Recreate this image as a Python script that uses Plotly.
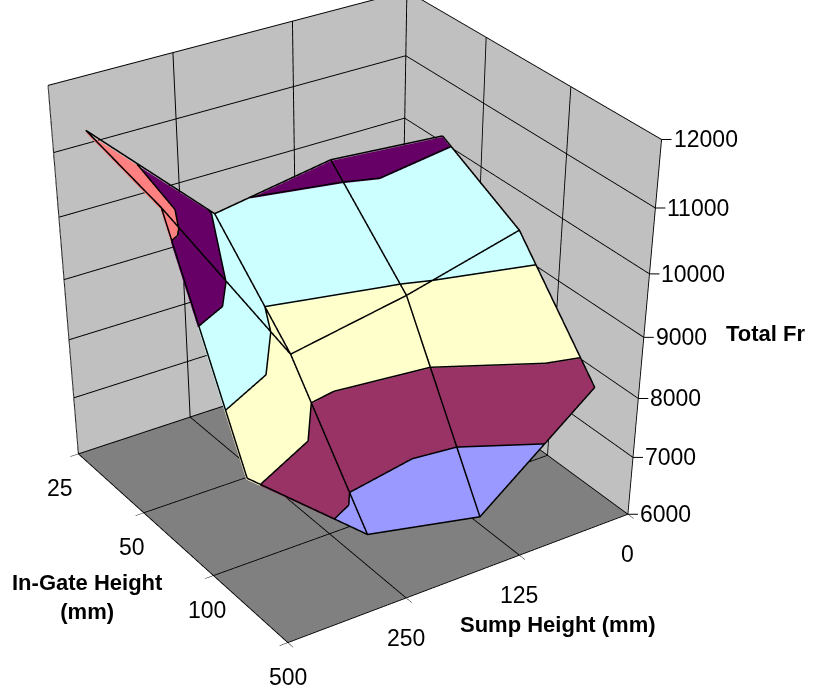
import numpy as np
import plotly.graph_objects as go

gate_labels = ["25", "50", "100", "500"]
sump_labels = ["0", "125", "250", ""]
z_ticks = [6000, 7000, 8000, 9000, 10000, 11000, 12000]
row_a = [10080, 10220, 9906, 11700]
row_b = [9373, 8890, 8540, 11380]
row_c = [7680, 6116, 6530, 8180]
band_colors = ["#9999FF", "#993366", "#FFFFCC", "#CCFFFF", "#660066", "#FF8080"]

FONT = "Liberation Sans, Arial, sans-serif"
W, H = 815, 2100          # page is taller than the window: weaker perspective at the same size
SCENE_W = 688

sump_pos = list(range(len(sump_labels)))
gate_pos = list(range(len(gate_labels)))
row_pos = [p + 0.5 for p in gate_pos[:-1]]
xmax, ymax = sump_pos[-1], gate_pos[-1]
zmin, zmax = z_ticks[0], z_ticks[-1]
rows = [row_a, row_b, row_c]
asp_z = 0.96
FLIPPED_CELLS = {(2, 0)}   # cell split along its other diagonal

# camera: direction plus a pure sideways/upwards shift of the picture
depth = 6.06
pitch = np.radians(44.0)
hor = np.array([0.55, 0.835])
hor = hor / np.linalg.norm(hor)
view = np.array([hor[0] * np.cos(pitch), hor[1] * np.cos(pitch), np.sin(pitch)])
right = np.array([-hor[1], hor[0], 0.0])
up = np.array([-hor[0] * np.sin(pitch), -hor[1] * np.sin(pitch), np.cos(pitch)])
f = H / (2 * np.tan(np.pi / 8))
ppu = f / depth
box_px = np.array([349.0, 308.0])
dx = box_px[0] - SCENE_W / 2
dy = H / 2 - box_px[1]
shift = -right * dx / ppu - up * dy / ppu
eye = view * depth + shift
center = shift

# small lift of the outlines towards the viewer, so they stay above the faces
LIFT = 0.008
lift_x = view[0] * LIFT * xmax
lift_y = view[1] * LIFT * ymax
lift_z = view[2] * LIFT * (zmax - zmin) / asp_z


def clip(poly, level, keep_above):
    out = []
    for i, p in enumerate(poly):
        q = poly[(i + 1) % len(poly)]
        pin = p[2] >= level if keep_above else p[2] <= level
        qin = q[2] >= level if keep_above else q[2] <= level
        if pin:
            out.append(p)
        if pin != qin:
            t = (level - p[2]) / (q[2] - p[2])
            out.append(tuple(a + t * (b - a) for a, b in zip(p, q)))
    return out


tris = []
for j in range(len(row_pos) - 1):
    for i in range(len(sump_pos) - 1):
        a = (sump_pos[i], row_pos[j], rows[j][i])
        b = (sump_pos[i + 1], row_pos[j], rows[j][i + 1])
        c = (sump_pos[i], row_pos[j + 1], rows[j + 1][i])
        d = (sump_pos[i + 1], row_pos[j + 1], rows[j + 1][i + 1])
        if (i, j) in FLIPPED_CELLS:
            tris += [[a, b, d], [a, d, c]]
        else:
            tris += [[a, b, c], [d, c, b]]

mx, my, mz, mi, mj, mk, fc = [], [], [], [], [], [], []
for tri in tris:
    for lo, hi, col in zip(z_ticks[:-1], z_ticks[1:], band_colors):
        poly = clip(clip(tri, lo, True), hi, False)
        if len(poly) < 3:
            continue
        base = len(mx)
        for p in poly:
            mx.append(p[0]); my.append(p[1]); mz.append(p[2])
        for t in range(1, len(poly) - 1):
            mi.append(base); mj.append(base + t); mk.append(base + t + 1); fc.append(col)

bands = go.Mesh3d(x=mx, y=my, z=mz, i=mi, j=mj, k=mk, facecolor=fc, flatshading=True,
                  hoverinfo="skip", showscale=False,
                  lighting=dict(ambient=1, diffuse=0, specular=0, roughness=1, fresnel=0))

# grid lines and band outlines
lx, ly, lz = [], [], []


def add_line(points):
    for p in points:
        lx.append(min(p[0] + lift_x, xmax)); ly.append(min(p[1] + lift_y, ymax)); lz.append(p[2] + lift_z)
    lx.append(None); ly.append(None); lz.append(None)


for j, rp in enumerate(row_pos):
    add_line([(sp, rp, rows[j][i]) for i, sp in enumerate(sump_pos)])
for i, sp in enumerate(sump_pos):
    add_line([(sp, rp, rows[j][i]) for j, rp in enumerate(row_pos)])
for tri in tris:
    for level in z_ticks[1:-1]:
        pts = []
        for m in range(3):
            p, q = tri[m], tri[(m + 1) % 3]
            if (p[2] - level) * (q[2] - level) < 0:
                t = (level - p[2]) / (q[2] - p[2])
                pts.append(tuple(u + t * (v - u) for u, v in zip(p, q)))
        if len(pts) == 2:
            add_line(pts)
lines = go.Scatter3d(x=lx, y=ly, z=lz, mode="lines", line=dict(color="black", width=3),
                     hoverinfo="skip", showlegend=False)

# box edges (walls)
edges = go.Scatter3d(
    x=[0, 0, None, xmax, xmax, 0, 0, None, xmax, xmax, None, xmax, 0, 0],
    y=[ymax, ymax, None, ymax, 0, 0, ymax, None, ymax, 0, None, 0, 0, ymax],
    z=[zmin, zmax, None, zmin, zmin, zmin, zmin, None, zmin, zmin, None, zmax, zmax, zmax],
    mode="lines", line=dict(color="black", width=1), hoverinfo="skip", showlegend=False,
)
post = go.Scatter3d(x=[xmax, xmax], y=[0, 0], z=[zmin, zmax], mode="lines",
                    line=dict(color="#666666", width=1), hoverinfo="skip", showlegend=False)


def axis(tickvals, bg, rng, **kw):
    d = dict(
        title=dict(text=""), tickmode="array", tickvals=tickvals, showticklabels=False,
        range=rng, showbackground=True, backgroundcolor=bg, gridcolor="black", gridwidth=2,
        showline=False, ticks="outside", ticklen=8,
        tickcolor="black", tickwidth=1, showspikes=False, zeroline=False,
    )
    d.update(kw)
    return d


def z_label(v):
    return dict(x=0, y=ymax, z=v, text=str(v), showarrow=True, arrowhead=0, arrowwidth=1,
                arrowcolor="black", ax=10, ay=0, xanchor="left", yanchor="middle", standoff=0,
                font=dict(family=FONT, size=23, color="black"))


def tick_label(x, y, z, text, xshift, yshift):
    return dict(x=x, y=y, z=z, text=text, showarrow=False, xshift=xshift, yshift=yshift,
                font=dict(family=FONT, size=23, color="black"), xanchor="center", yanchor="middle")


scene_ann = [z_label(v) for v in z_ticks]
for p, t in zip(gate_pos, gate_labels):
    scene_ann.append(tick_label(xmax, p, zmin, t, -18 + 6 * p, -34))
for p, t in zip(sump_pos, sump_labels):
    if t:
        scene_ann.append(tick_label(p, ymax, zmin, t, 0, -40))


def title(text, px, py):
    return dict(text=f"<b>{text}</b>", x=px / W, y=1 - py / H, xref="paper", yref="paper",
                showarrow=False, xanchor="center", yanchor="middle", font=dict(size=22, family=FONT))


fig = go.Figure([bands, lines, edges, post])
fig.update_layout(
    width=W, height=H, margin=dict(l=0, r=0, t=0, b=0), paper_bgcolor="white",
    font=dict(family=FONT, color="black"), showlegend=False,
    scene=dict(
        domain=dict(x=[0, SCENE_W / W], y=[0, 1]),
        xaxis=axis(sump_pos, "#C0C0C0", [0, xmax]),
        yaxis=axis(gate_pos, "#C0C0C0", [0, ymax]),
        zaxis=axis(z_ticks, "#808080", [zmin, zmax], ticks=""),
        aspectmode="manual", aspectratio=dict(x=1, y=1, z=asp_z),
        camera=dict(eye=dict(x=eye[0], y=eye[1], z=eye[2]),
                    center=dict(x=center[0], y=center[1], z=center[2]),
                    up=dict(x=0, y=0, z=1)),
        annotations=scene_ann,
    ),
    annotations=[
        title("Total Fr", 765, 333),
        title("In-Gate Height<br>(mm)", 87, 597),
        title("Sump Height (mm)", 558, 624),
    ],
)
fig.write_html("out.html", config=dict(displayModeBar=False),
               post_script="document.documentElement.style.overflow='hidden';document.body.style.overflow='hidden';document.body.style.margin='0';")
